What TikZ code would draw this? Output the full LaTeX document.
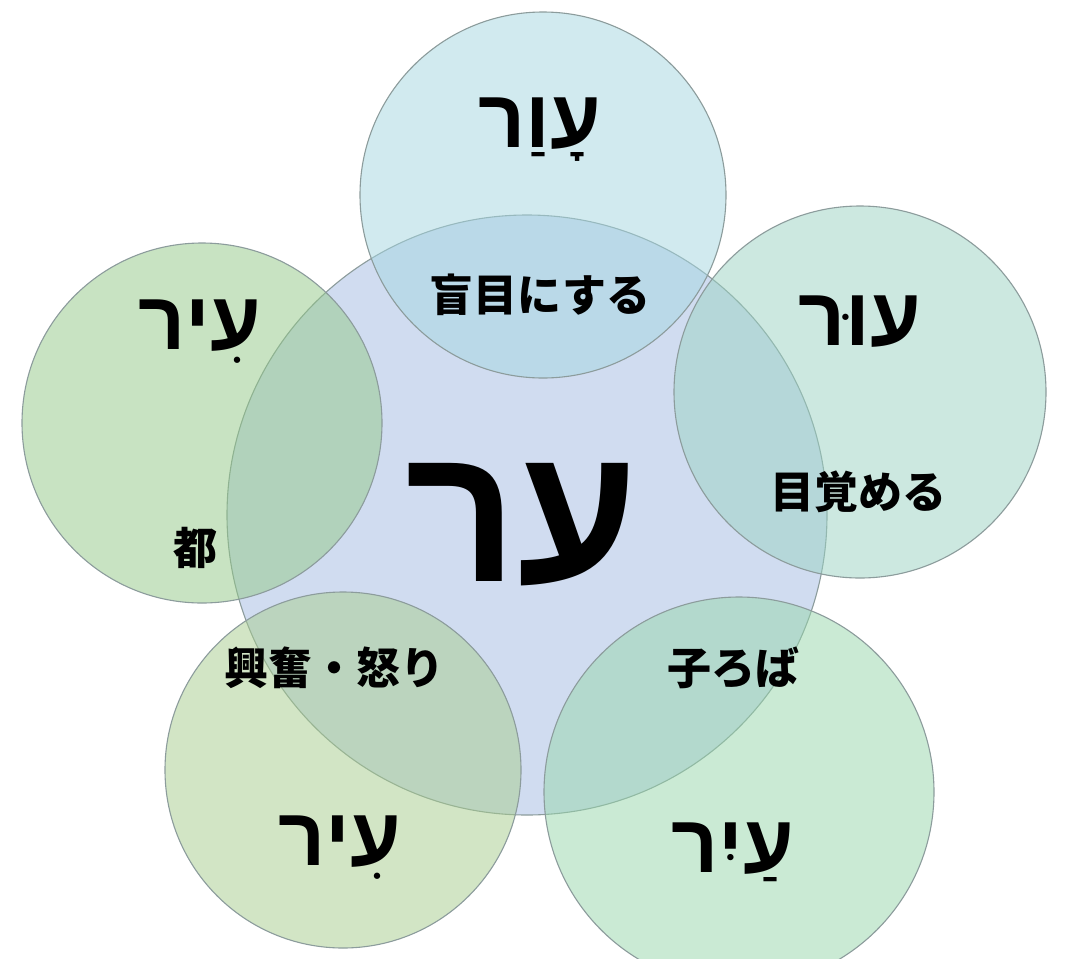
\documentclass[tikz,border=0pt]{standalone}
\usepackage{fontspec}
\TeXXeTstate=1
\newfontfamily\hebfont[Script=Hebrew]{Liberation Sans}
\newfontfamily\jpfont{Noto Sans CJK JP}
\definecolor{ringc}{HTML}{8C9C9C}
\definecolor{cmain}{HTML}{D0DCF0}
\definecolor{ctop}{RGB}{165,215,225}
\definecolor{cright}{RGB}{155,211,195}
\definecolor{cleft}{RGB}{147,201,135}
\definecolor{cbl}{RGB}{167,205,141}
\definecolor{cbr}{RGB}{151,215,171}
\begin{document}
\begin{tikzpicture}[x=1pt,y=-1pt,
  ring/.style={circle, draw=ringc, line width=1.1pt, fill opacity=0.5, inner sep=0pt},
  hebl/.style={font=\hebfont\bfseries\fontsize{82}{86}\selectfont, inner sep=0pt},
  hebbig/.style={font=\hebfont\bfseries\fontsize{195}{200}\selectfont, inner sep=0pt},
  jpl/.style={font=\jpfont\bfseries\fontsize{44}{50}\selectfont, inner sep=0pt}]
\useasboundingbox (0,0) rectangle (1069,959);
\clip (0,0) rectangle (1069,959);
\fill[white] (0,0) rectangle (1069,959);
% circles
\node[circle, draw=ringc, line width=1.1pt, fill=cmain, inner sep=0pt, minimum size=600pt] (main) at (527,515) {};
\node[ring, fill=ctop, minimum size=366pt] (top) at (543,195) {};
\node[ring, fill=cright, minimum size=372pt] (right) at (860,392) {};
\node[ring, fill=cleft, minimum size=360pt] (left) at (202,423) {};
\node[ring, fill=cbl, minimum size=356pt] (bl) at (343,770) {};
\node[ring, fill=cbr, minimum size=390pt] (br) at (739,792) {};
% hebrew
\node[hebbig] (tmain) at (522,525) {\beginR ער\endR};
\node[hebl] (ttop) at (540,130) {\beginR עָוַר\endR};
\node[hebl] (tright) at (860,322) {\beginR עוּר\endR};
\node[hebl] (tleft) at (200,332) {\beginR עִיר\endR};
\node[hebl] (tbl) at (340,848) {\beginR עִיר\endR};
\node[hebl] (tbr) at (733,852) {\beginR עַיִר\endR};
% japanese
\node[jpl] (j1) at (540,295) {盲目にする};
\node[jpl] (j2) at (858,492) {目覚める};
\node[jpl] (j3) at (195,548) {都};
\node[jpl] (j4) at (334,668) {興奮・怒り};
\node[jpl] (j5) at (733,668) {子ろば};
\end{tikzpicture}
\end{document}
